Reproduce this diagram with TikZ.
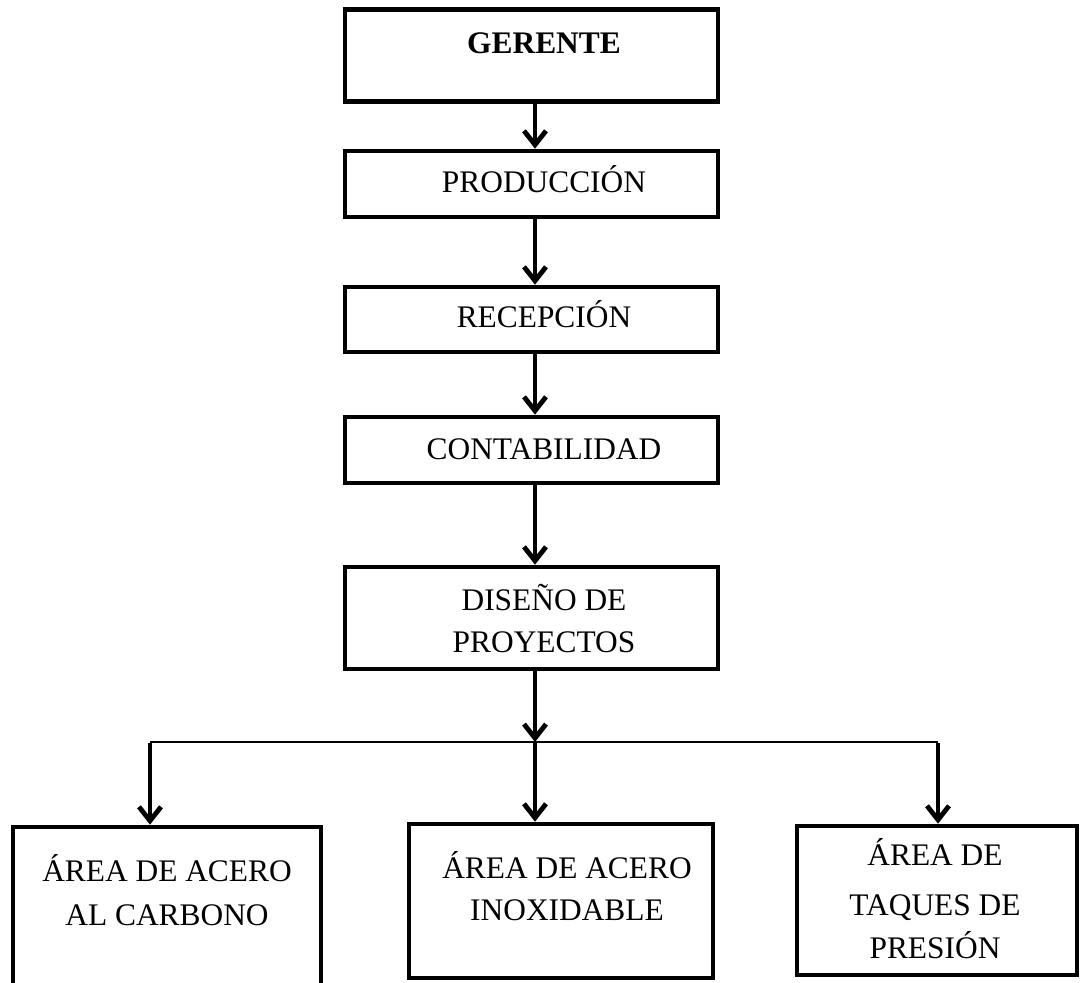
\documentclass[tikz,border=0pt]{standalone}
\usepackage{fontspec}
\setmainfont{Liberation Serif}
\usetikzlibrary{arrows.meta}
\begin{document}
\begin{tikzpicture}[x=0.5pt,y=-0.5pt,
  box/.style={draw=black,line width=2.3pt,rectangle,inner sep=0pt,minimum width=186.5pt},
  lbl/.style={anchor=base,inner sep=0pt,font=\fontsize{15.7}{19}\selectfont},
  arr/.style={draw=black,line width=2.4pt,-{Straight Barb[length=7pt,width=11pt]}},
  thinline/.style={draw=black,line width=1.2pt}]
\useasboundingbox (0,0) rectangle (1080,983);
\clip (0,0) rectangle (1080,983);
% main column boxes
\node[box,minimum height=45.75pt] (g) at (531.5,55.5) {};
\node[box,minimum height=33pt] (p) at (531.5,184) {};
\node[box,minimum height=32.5pt] (r) at (531.5,319.5) {};
\node[box,minimum height=33pt] (c) at (531.5,450) {};
\node[box,minimum height=51pt] (d) at (531.5,618) {};
% bottom boxes
\node[box,minimum width=154pt,minimum height=89pt] (l) at (167,916) {};
\node[box,minimum width=152pt,minimum height=77pt] (m) at (561,901) {};
\node[box,minimum width=140pt,minimum height=74.5pt] (q) at (937,900.5) {};
% texts
\node[lbl] (tg) at (544,54) {\textbf{GERENTE}};
\node[lbl] (tp) at (544,192.7) {PRODUCCIÓN};
\node[lbl] (tr) at (544,328) {RECEPCIÓN};
\node[lbl] (tc) at (544,459) {CONTABILIDAD};
\node[lbl] (td1) at (544,610) {DISEÑO DE};
\node[lbl] (td2) at (544,652.5) {PROYECTOS};
\node[lbl] (tl1) at (167,881.5) {ÁREA DE ACERO};
\node[lbl] (tl2) at (167,925) {AL CARBONO};
\node[lbl] (tm1) at (567,878) {ÁREA DE ACERO};
\node[lbl] (tm2) at (567,920) {INOXIDABLE};
\node[lbl] (tq1) at (935,865) {ÁREA DE};
\node[lbl] (tq2) at (935,915) {TAQUES DE};
\node[lbl] (tq3) at (935,958) {PRESIÓN};
% junctions
\coordinate (j) at (535,742);
\coordinate (jl) at (150,742);
\coordinate (jr) at (938,742);
% connectors
\draw[arr] ([xshift=1.75pt]g.south) -- ([xshift=1.75pt]p.north);
\draw[arr] ([xshift=1.75pt]p.south) -- ([xshift=1.75pt]r.north);
\draw[arr] ([xshift=1.75pt]r.south) -- ([xshift=1.75pt]c.north);
\draw[arr] ([xshift=1.75pt]c.south) -- ([xshift=1.75pt]d.north);
\draw[arr] ([xshift=1.75pt]d.south) -- (j);
\draw[thinline] (jl) -- (jr);
\draw[arr] ([yshift=-0.6pt]jl) -- (jl |- l.north);
\draw[arr] (j) -- (j |- m.north);
\draw[arr] ([yshift=-0.6pt]jr) -- (jr |- q.north);
\end{tikzpicture}
\end{document}
